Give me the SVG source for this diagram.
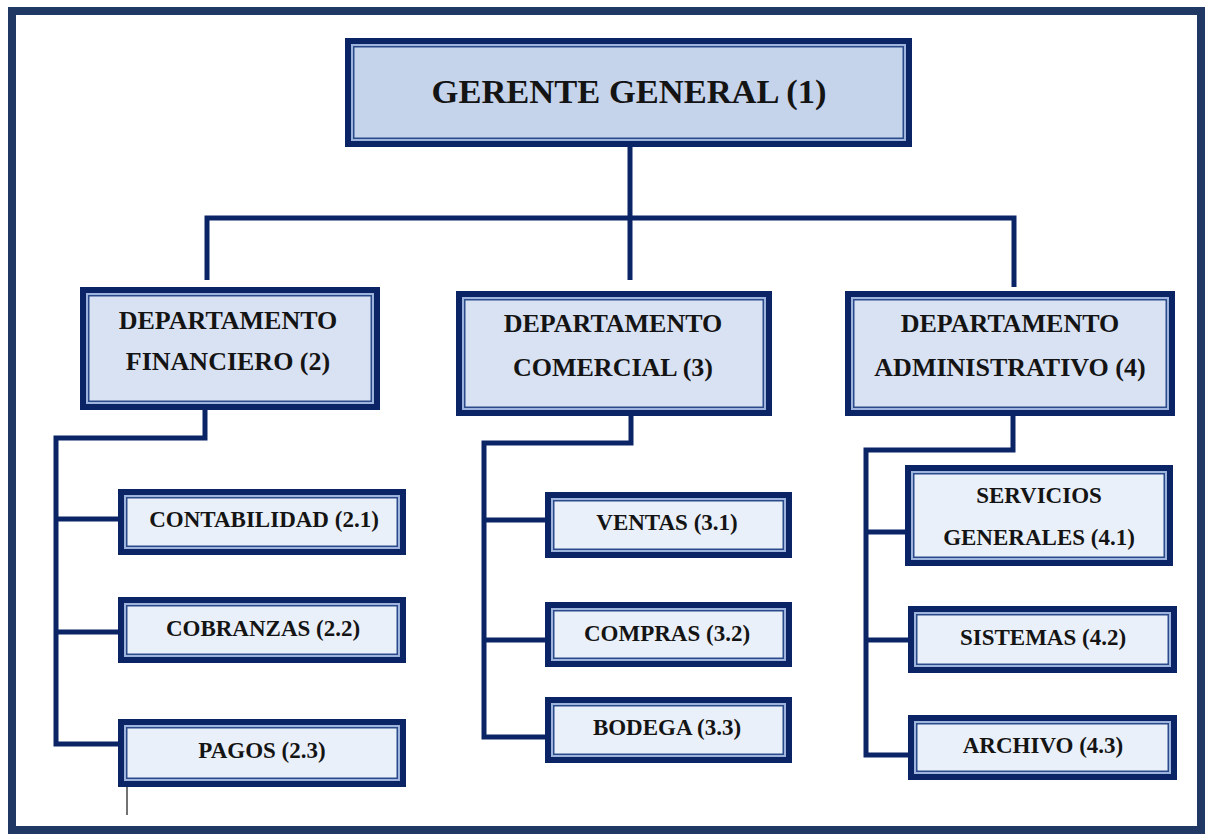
<svg xmlns="http://www.w3.org/2000/svg" width="1206" height="834" viewBox="0 0 1206 834">
<style>
.o{fill:#0b2466}
.l{fill:#9fb4dc}
.d{fill:#2a4a8a}
.f1{fill:#c5d3eb}
.f2{fill:#d9e2f3}
.f3{fill:#eaf0f9}
.t{font-family:"Liberation Serif","DejaVu Serif","Times New Roman",serif;font-weight:bold;fill:#141414;text-anchor:middle}
.c{fill:none;stroke:#0b2466;stroke-width:5;stroke-linejoin:miter;stroke-linecap:butt}
</style>
<rect x="0" y="0" width="1206" height="834" fill="#ffffff"/>
<rect x="12" y="11" width="1189" height="819" fill="none" stroke="#1f3864" stroke-width="8"/>
<g id="connectors">
<path class="c" d="M630,147 V280"/>
<path class="c" d="M207,280 V218 H1014 V287"/>
<path class="c" d="M205,410 V438 H56 V744 H118"/>
<path class="c" d="M56,519 H118"/>
<path class="c" d="M56,632 H118"/>
<path class="c" d="M631,416 V443 H484 V737 H545"/>
<path class="c" d="M484,520 H545"/>
<path class="c" d="M484,640 H545"/>
<path class="c" d="M1013,416 V450 H866 V755 H908"/>
<path class="c" d="M866,532 H905"/>
<path class="c" d="M866,640 H908"/>
<path d="M127,787 V815" fill="none" stroke="#444" stroke-width="1.5"/>
</g>
<g id="gerente">
<rect class="o" x="345" y="38" width="567" height="109"/>
<rect class="l" x="351" y="44" width="555" height="97"/>
<rect class="d" x="353" y="46" width="551" height="93"/>
<rect class="f1" x="354.5" y="47.5" width="548" height="90"/>
<text class="t" x="629" y="103" font-size="34.5" font-family="Liberation Serif, serif">GERENTE GENERAL (1)</text>
</g>
<g id="dep-financiero">
<rect class="o" x="80" y="287" width="300" height="123"/>
<rect class="l" x="86" y="293" width="288" height="111"/>
<rect class="d" x="88" y="295" width="284" height="107"/>
<rect class="f2" x="89.5" y="296.5" width="281" height="104"/>
<text class="t" x="228" y="329" font-size="26" font-family="Liberation Serif, serif">DEPARTAMENTO</text>
<text class="t" x="228" y="370" font-size="26" font-family="Liberation Serif, serif">FINANCIERO (2)</text>
</g>
<g id="dep-comercial">
<rect class="o" x="456" y="291" width="316" height="125"/>
<rect class="l" x="462" y="297" width="304" height="113"/>
<rect class="d" x="464" y="299" width="300" height="109"/>
<rect class="f2" x="465.5" y="300.5" width="297" height="106"/>
<text class="t" x="613" y="332" font-size="26" font-family="Liberation Serif, serif">DEPARTAMENTO</text>
<text class="t" x="613" y="376" font-size="26" font-family="Liberation Serif, serif">COMERCIAL (3)</text>
</g>
<g id="dep-administrativo">
<rect class="o" x="845" y="291" width="330" height="125"/>
<rect class="l" x="851" y="297" width="318" height="113"/>
<rect class="d" x="853" y="299" width="314" height="109"/>
<rect class="f2" x="854.5" y="300.5" width="311" height="106"/>
<text class="t" x="1010" y="332" font-size="26" font-family="Liberation Serif, serif">DEPARTAMENTO</text>
<text class="t" x="1010" y="376" font-size="26" font-family="Liberation Serif, serif">ADMINISTRATIVO (4)</text>
</g>
<g id="contabilidad">
<rect class="o" x="118" y="489" width="288" height="66"/>
<rect class="l" x="124" y="495" width="276" height="54"/>
<rect class="d" x="126" y="497" width="272" height="50"/>
<rect class="f3" x="127.5" y="498.5" width="269" height="47"/>
<text class="t" x="264" y="527" font-size="23" font-family="Liberation Serif, serif">CONTABILIDAD (2.1)</text>
</g>
<g id="cobranzas">
<rect class="o" x="118" y="597" width="288" height="66"/>
<rect class="l" x="124" y="603" width="276" height="54"/>
<rect class="d" x="126" y="605" width="272" height="50"/>
<rect class="f3" x="127.5" y="606.5" width="269" height="47"/>
<text class="t" x="263" y="636" font-size="23" font-family="Liberation Serif, serif">COBRANZAS (2.2)</text>
</g>
<g id="pagos">
<rect class="o" x="118" y="719" width="288" height="68"/>
<rect class="l" x="124" y="725" width="276" height="56"/>
<rect class="d" x="126" y="727" width="272" height="52"/>
<rect class="f3" x="127.5" y="728.5" width="269" height="49"/>
<text class="t" x="262" y="758" font-size="23" font-family="Liberation Serif, serif">PAGOS (2.3)</text>
</g>
<g id="ventas">
<rect class="o" x="545" y="492" width="247" height="66"/>
<rect class="l" x="551" y="498" width="235" height="54"/>
<rect class="d" x="553" y="500" width="231" height="50"/>
<rect class="f3" x="554.5" y="501.5" width="228" height="47"/>
<text class="t" x="667" y="530" font-size="23" font-family="Liberation Serif, serif">VENTAS (3.1)</text>
</g>
<g id="compras">
<rect class="o" x="545" y="602" width="247" height="65"/>
<rect class="l" x="551" y="608" width="235" height="53"/>
<rect class="d" x="553" y="610" width="231" height="49"/>
<rect class="f3" x="554.5" y="611.5" width="228" height="46"/>
<text class="t" x="667" y="641" font-size="23" font-family="Liberation Serif, serif">COMPRAS (3.2)</text>
</g>
<g id="bodega">
<rect class="o" x="545" y="697" width="247" height="66"/>
<rect class="l" x="551" y="703" width="235" height="54"/>
<rect class="d" x="553" y="705" width="231" height="50"/>
<rect class="f3" x="554.5" y="706.5" width="228" height="47"/>
<text class="t" x="667" y="735" font-size="23" font-family="Liberation Serif, serif">BODEGA (3.3)</text>
</g>
<g id="servicios-generales">
<rect class="o" x="905" y="465" width="268" height="101"/>
<rect class="l" x="911" y="471" width="256" height="89"/>
<rect class="d" x="913" y="473" width="252" height="85"/>
<rect class="f3" x="914.5" y="474.5" width="249" height="82"/>
<text class="t" x="1039" y="503" font-size="23" font-family="Liberation Serif, serif">SERVICIOS</text>
<text class="t" x="1039" y="545" font-size="23" font-family="Liberation Serif, serif">GENERALES (4.1)</text>
</g>
<g id="sistemas">
<rect class="o" x="908" y="606" width="269" height="67"/>
<rect class="l" x="914" y="612" width="257" height="55"/>
<rect class="d" x="916" y="614" width="253" height="51"/>
<rect class="f3" x="917.5" y="615.5" width="250" height="48"/>
<text class="t" x="1043" y="645" font-size="23" font-family="Liberation Serif, serif">SISTEMAS (4.2)</text>
</g>
<g id="archivo">
<rect class="o" x="908" y="715" width="269" height="65"/>
<rect class="l" x="914" y="721" width="257" height="53"/>
<rect class="d" x="916" y="723" width="253" height="49"/>
<rect class="f3" x="917.5" y="724.5" width="250" height="46"/>
<text class="t" x="1043" y="753" font-size="23" font-family="Liberation Serif, serif">ARCHIVO (4.3)</text>
</g>
</svg>
